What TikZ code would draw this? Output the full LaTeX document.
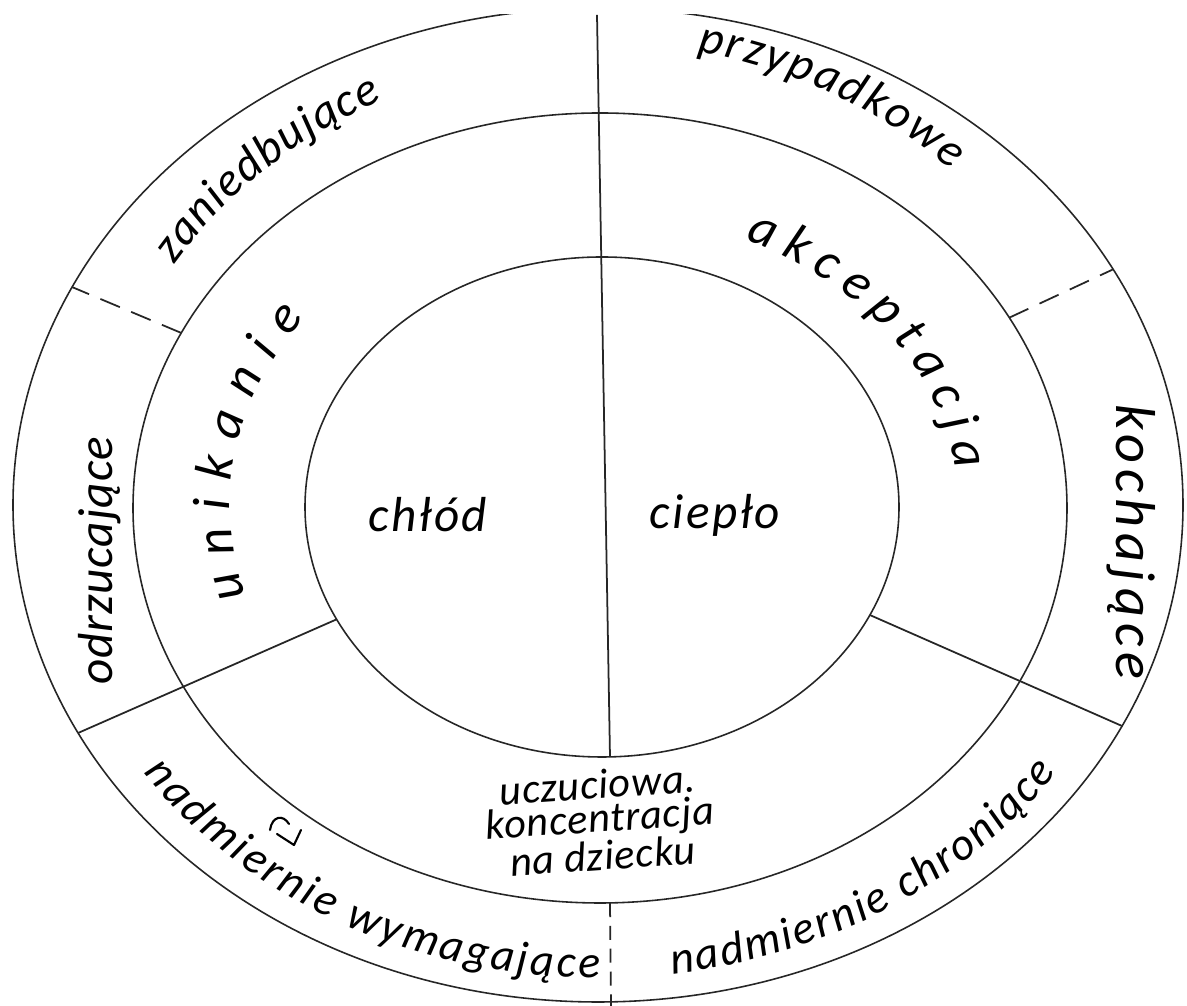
\documentclass[tikz,border=0pt]{standalone}
\usepackage{fontspec}
\usetikzlibrary{decorations.text}
\newfontfamily\lbl{Carlito}
\newcommand\fOut{\lbl\itshape\fontsize{27}{31}\selectfont}
\newcommand\fBot{\lbl\itshape\fontsize{26}{30}\selectfont}
\newcommand\fMid{\lbl\itshape\fontsize{30}{34}\selectfont}
\newcommand\fIn{\lbl\itshape\fontsize{28}{32}\selectfont\addfontfeature{LetterSpace=5}}
\newcommand\fCtr{\lbl\itshape\fontsize{24}{19}\selectfont\addfontfeature{LetterSpace=2}}
\newcommand\fSideL{\lbl\itshape\fontsize{28}{32}\selectfont\addfontfeature{LetterSpace=2}}
\newcommand\fSideR{\lbl\itshape\fontsize{32}{36}\selectfont\addfontfeature{LetterSpace=11}}
\begin{document}
\begin{tikzpicture}[x=0.02cm,y=0.02cm,
  ring/.style={line width=0.9pt, draw=black!85},
  divider/.style={line width=1pt, draw=black!85},
  dashdiv/.style={line width=1pt, draw=black!85, dash pattern=on 12pt off 7pt},
  botdash/.style={line width=1pt, draw=black!85, dash pattern=on 8pt off 5pt},
  arclabel/.style={decorate, decoration={text along path, text align=fit to path, text={#1}}}]
\useasboundingbox (0,0) rectangle (1187,1006);
\fill[white] (0,0) rectangle (1187,1006);
\coordinate (Co) at (598,501);
\coordinate (Cm) at (600,498);
\coordinate (Ci) at (602,499);
\coordinate (C) at (600,501);
% rings
\begin{scope}
\clip (0,0) rectangle (1187,991);
\draw[ring] (Co) ellipse[x radius=585, y radius=497];
\end{scope}
\draw[ring] (Cm) ellipse[x radius=467, y radius=395];
\draw[ring] (Ci) ellipse[x radius=297, y radius=250];
% end points of dividers
\coordinate (top) at (597,991);
\coordinate (ib) at (610,249);
\coordinate (mb) at (610,103);
\coordinate (bot) at (611,0);
\coordinate (llI) at ([shift={(Ci)}]206.7:297 and 250);
\coordinate (llO) at ([shift={(Co)}]207.3:585 and 497);
\coordinate (lrI) at ([shift={(Ci)}]334.4:297 and 250);
\coordinate (lrO) at ([shift={(Co)}]333.6:585 and 497);
\coordinate (ulM) at ([shift={(Cm)}]153.7:467 and 395);
\coordinate (ulO) at ([shift={(Co)}]154:585 and 497);
\coordinate (urM) at ([shift={(Cm)}]28.8:467 and 395);
\coordinate (urO) at ([shift={(Co)}]28.3:585 and 497);
% dividers
\draw[divider] (top) -- (ib);
\draw[botdash] (mb) -- (bot);
\draw[divider] (llI) -- (llO);
\draw[divider] (lrI) -- (lrO);
\draw[dashdiv] (ulM) -- (ulO);
\draw[dashdiv] (urM) -- (urO);
% outer ring labels
\path[arclabel={|\fOut|zaniedbujące}] ([shift={(C)}]147.5:505 and 448) arc[start angle=147.5, end angle=115.5, x radius=505, y radius=448];
\path[arclabel={|\fOut|przypadkowe}] ([shift={(C)}]79:510 and 462) arc[start angle=79, end angle=46.5, x radius=510, y radius=462];
\path[arclabel={|\fBot|nadmiernie wymagające}] ([shift={(C)}]214.5:554 and 473) arc[start angle=214.5, end angle=270, x radius=554, y radius=473];
\path[arclabel={|\fBot|nadmiernie chroniące}] ([shift={(C)}]277.5:554 and 473) arc[start angle=277.5, end angle=325.5, x radius=554, y radius=473];
\node[rotate=90, font=\fSideL] (odr) at (100,445) {odrzucające};
\node[rotate=-90, font=\fSideR] (koch) at (1131,464) {kochające};
% middle ring labels
\path[arclabel={|\fMid|unikanie}] ([shift={(C)}]197:370 and 310) arc[start angle=197, end angle=143, x radius=370, y radius=310];
\path[arclabel={|\fMid|akceptacja}] ([shift={(C)}]66:358 and 290) arc[start angle=66, end angle=7, x radius=358, y radius=290];
% centre labels
\node[font=\fIn] (chl) at (428,491) {chłód};
\node[font=\fIn] (cie) at (715,491) {ciepło};
\node[font=\fCtr, align=center, rotate=4, inner sep=0pt] (ucz) at (600,186) {uczuciowa.\\koncentracja\\na dziecku};
% small hand mark
\draw[line width=1.2pt, line cap=round] (270,176) .. controls (272,190) and (283,192) .. (289,182);
\draw[line width=1.2pt, line cap=round, line join=round] (277,172) -- (294,161) -- (301,176);
\end{tikzpicture}
\end{document}
